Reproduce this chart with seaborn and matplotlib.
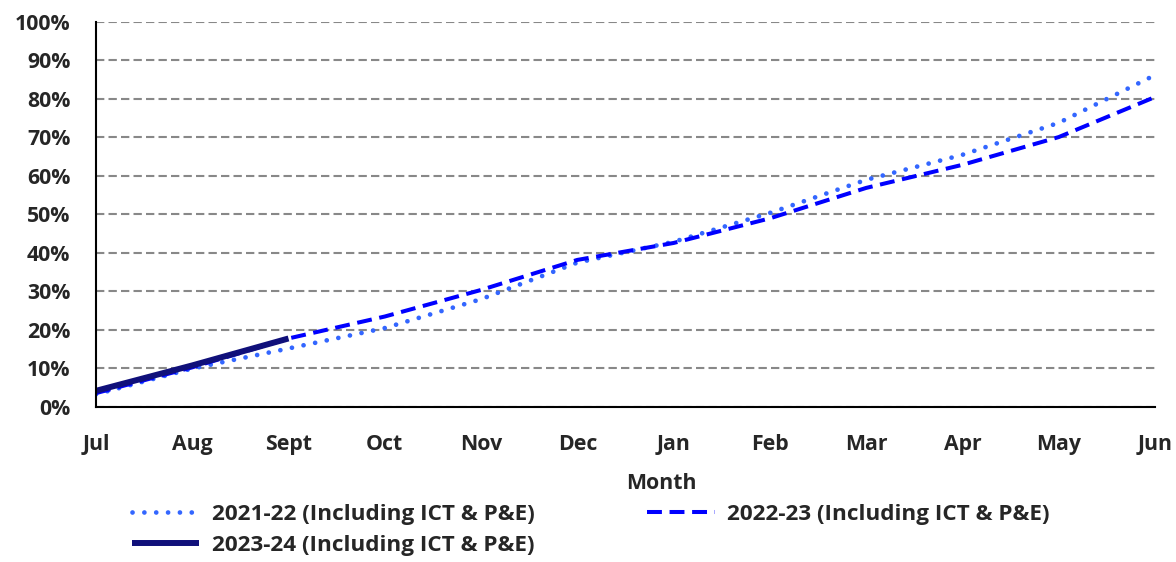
import seaborn as sns
import matplotlib.pyplot as plt
import matplotlib.ticker as mticker
import pandas as pd

# Dados (percentual acumulado por mês)
months = ['Jul', 'Aug', 'Sept', 'Oct', 'Nov', 'Dec',
          'Jan', 'Feb', 'Mar', 'Apr', 'May', 'Jun']
fy2122 = [3.3, 10.0, 15.2, 20.5, 28.0, 37.5, 42.9, 50.4, 59.0, 65.5, 73.8, 86.2]
fy2223 = [3.6, 10.3, 17.8, 23.5, 30.4, 38.2, 42.6, 49.0, 56.9, 62.9, 70.1, 80.5]
fy2324 = [4.2, 10.8, 17.8]
labels = ['2021-22 (Including ICT & P&E)',
          '2022-23 (Including ICT & P&E)',
          '2023-24 (Including ICT & P&E)']

# Estilo
sns.set_style("white")
plt.rcParams['font.family'] = ['Open Sans', 'DejaVu Sans']
plt.rcParams['font.weight'] = 'bold'

FS = 15.3
FS_LEG = 16.2

fig = plt.figure(figsize=(11.76, 5.62), dpi=100)
ax = fig.add_axes([0.0816, 0.2758, 0.9005, 0.6851])

series = [
    (fy2122, labels[0], '#3366FF', 3.4, (0, (0.01, 2.5)), 'round'),
    (fy2223, labels[1], '#0000FF', 2.9, (0, (3.7, 1.9)), 'butt'),
    (fy2324, labels[2], '#10107A', 4.3, '-', 'butt'),
]

for values, label, color, lw, ls, cap in series:
    df = pd.DataFrame({'idx': range(len(values)), 'pct': values})
    sns.lineplot(
        data=df, x='idx', y='pct', ax=ax,
        color=color, linewidth=lw, linestyle=ls,
        label=label, dash_capstyle=cap, solid_capstyle='butt'
    )

# Eixos
ax.set_xlim(0, len(months) - 1)
ax.set_ylim(0, 100)
ax.set_xticks(range(len(months)))
ax.set_xticklabels(months)
ax.set_yticks(range(0, 101, 10))
ax.yaxis.set_major_formatter(mticker.FuncFormatter(lambda v, p: f'{v:.0f}%'))

ax.tick_params(axis='x', direction='in', length=9, width=1.5,
               pad=19.5, labelsize=FS, color='black')
ax.tick_params(axis='y', length=0, pad=18.5, labelsize=FS)
for lab in ax.get_xticklabels() + ax.get_yticklabels():
    lab.set_fontweight('bold')

ax.set_ylabel('')
ax.set_xlabel('Month', fontsize=FS, fontweight='bold')
ax.xaxis.set_label_coords(0.534, -0.171)

# Grade tracejada
ax.yaxis.grid(True, color='#888888', linewidth=1.5, linestyle=(0, (4, 2)))
ax.xaxis.grid(False)
ax.set_axisbelow(True)

sns.despine(ax=ax)
ax.spines['left'].set_color('black')
ax.spines['bottom'].set_color('black')
ax.spines['left'].set_linewidth(1.5)
ax.spines['bottom'].set_linewidth(1.5)

# Legenda abaixo do gráfico (ordem por linha)
handles, leg_labels = ax.get_legend_handles_labels()
ax.get_legend().remove()
order = [0, 2, 1]
fig.legend(
    [handles[i] for i in order], [leg_labels[i] for i in order],
    loc='upper left', bbox_to_anchor=(0.1122, 0.103),
    ncol=2, frameon=False, borderpad=0, borderaxespad=0,
    handlelength=3.0, handletextpad=0.55, columnspacing=5.0,
    labelspacing=0.45, prop={'size': FS_LEG, 'weight': 'bold'}
)

plt.savefig('out.png', dpi=100)
